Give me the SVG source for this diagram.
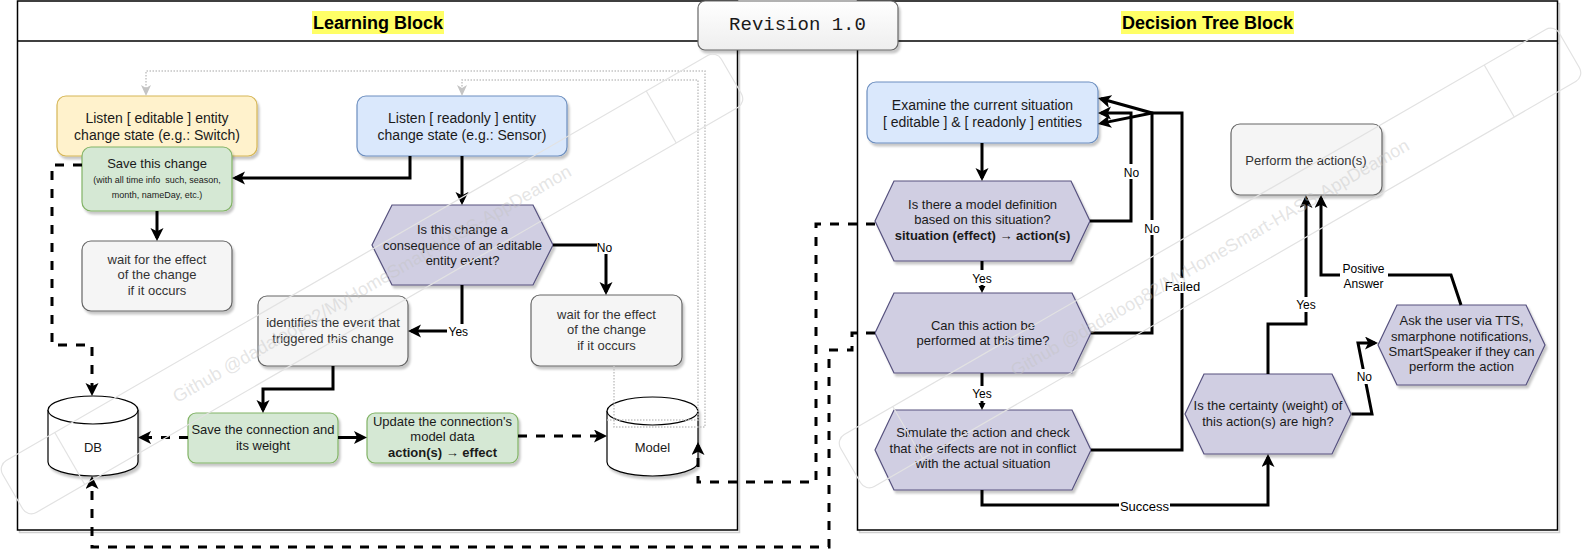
<svg xmlns="http://www.w3.org/2000/svg" width="1587" height="559" viewBox="0 0 1587 559">
<defs>
<style>
text { font-family: "Liberation Sans", Arial, Helvetica, sans-serif; text-anchor: middle; }
.t14 { font-size: 14px; fill: #1a1a1a; }
.t13 { font-size: 13px; fill: #1a1a1a; }
.g13 { font-size: 13px; fill: #333333; }
.t9 { font-size: 9px; fill: #1a1a1a; }
.b { font-weight: bold; }
.lbl { font-size: 12px; fill: #000; }
.lbl13 { font-size: 13px; fill: #000; }
.lane { fill: #ffffff; stroke: #000; stroke-width: 1.5; }
.laneSh { fill: none; stroke: #cfcfcf; stroke-width: 1.5; }
.yellow { fill: #fff2cc; stroke: #d6b656; stroke-width: 1.2; }
.blue { fill: #dae8fc; stroke: #6c8ebf; stroke-width: 1.2; }
.green { fill: #d5e8d4; stroke: #82b366; stroke-width: 1.2; }
.grey { fill: #f5f5f5; stroke: #666666; stroke-width: 1.2; }
.purple { fill: #d0cee2; stroke: #56517e; stroke-width: 1.2; }
.cyl { fill: #ffffff; stroke: #000; stroke-width: 1.2; }
.e { fill: none; stroke: #000; stroke-width: 3; marker-end: url(#ar); }
.es { fill: none; stroke: #000; stroke-width: 3; marker-end: url(#sm); }
.d { fill: none; stroke: #000; stroke-width: 3; stroke-dasharray: 9 9; marker-end: url(#ar); }
.dot { fill: none; stroke: #c4c4c4; stroke-width: 1.5; stroke-dasharray: 1.5 1.5; marker-end: url(#ag); }
.lbg { fill: #ffffff; }
.hl { fill: #ffff66; }
.wm rect, .wm line { fill: none; stroke: #e2e2e2; stroke-width: 1.2; }
.wm text { font-size: 18px; fill: #c4c4c4; fill-opacity: 0.45; }
</style>
<filter id="sh" x="-10%" y="-10%" width="130%" height="140%">
<feDropShadow dx="2" dy="3" stdDeviation="1.2" flood-color="#000" flood-opacity="0.22"/>
</filter>
<linearGradient id="rev" x1="0" y1="0" x2="0" y2="1">
<stop offset="0" stop-color="#ffffff"/>
<stop offset="1" stop-color="#eeeeee"/>
</linearGradient>
<marker id="ar" markerUnits="userSpaceOnUse" markerWidth="14" markerHeight="14" refX="10" refY="6.5" orient="auto">
<path d="M0,0 L13,6.5 L0,13 L3.2,6.5 z" fill="#000"/>
</marker>
<marker id="sm" markerUnits="userSpaceOnUse" markerWidth="8" markerHeight="8" refX="4" refY="3.5" orient="auto">
<path d="M0,0 L7,3.5 L0,7 z" fill="#000"/>
</marker>
<marker id="ag" markerUnits="userSpaceOnUse" markerWidth="12" markerHeight="11" refX="9" refY="5" orient="auto">
<path d="M0,0 L11,5 L0,10 L3,5 z" fill="#c4c4c4"/>
</marker>
</defs>

<rect x="0" y="0" width="1587" height="559" fill="#ffffff"/>

<g id="learning-block">
<rect class="laneSh" x="19.5" y="3.5" width="720" height="529"/>
<line class="laneSh" x1="19.5" y1="43.5" x2="739.5" y2="43.5"/>
<rect class="lane" x="17.5" y="1" width="720" height="529"/>
<line x1="17.5" y1="41" x2="737.5" y2="41" stroke="#000" stroke-width="1.5"/>
<rect class="hl" x="312" y="11" width="132" height="23"/>
<text x="378" y="28.5" style="font-size:18px;font-weight:bold;fill:#000">Learning Block</text>
</g>

<g id="decision-block">
<rect class="laneSh" x="859.5" y="3.5" width="700" height="529"/>
<line class="laneSh" x1="859.5" y1="43.5" x2="1559.5" y2="43.5"/>
<rect class="lane" x="857.5" y="1" width="700" height="529"/>
<line x1="857.5" y1="41" x2="1557.5" y2="41" stroke="#000" stroke-width="1.5"/>
<rect class="hl" x="1121" y="11" width="173" height="23"/>
<text x="1207.5" y="28.5" style="font-size:18px;font-weight:bold;fill:#000">Decision Tree Block</text>
</g>

<g id="revision">
<rect x="698" y="1" width="200" height="49" rx="7" fill="url(#rev)" stroke="#666" stroke-width="1.2" filter="url(#sh)"/>
<text x="797.5" y="30" style="font-family:'Liberation Mono','Courier New',monospace;font-size:19px;fill:#1a1a1a">Revision 1.0</text>
</g>

<g id="n-listen-editable">
<rect class="yellow" x="57" y="96" width="200" height="60" rx="9" filter="url(#sh)"/>
<text class="t14" x="157" y="123">Listen [ editable ] entity</text>
<text class="t14" x="157" y="140">change state (e.g.: Switch)</text>
</g>

<g id="n-listen-readonly">
<rect class="blue" x="357" y="96" width="210" height="60" rx="9" filter="url(#sh)"/>
<text class="t14" x="462" y="123">Listen [ readonly ] entity</text>
<text class="t14" x="462" y="140">change state (e.g.: Sensor)</text>
</g>

<g id="n-save-change">
<rect class="green" x="82" y="147" width="150" height="64" rx="9" filter="url(#sh)"/>
<text class="t13" x="157" y="167.5">Save this change</text>
<text class="t9" x="157" y="182.5">(with all time info&#160; such, season,</text>
<text class="t9" x="157" y="197.5">month, nameDay, etc.)</text>
</g>

<g id="n-wait-1">
<rect class="grey" x="82" y="241" width="150" height="70" rx="9" filter="url(#sh)"/>
<text class="g13" x="157" y="263.5">wait for the effect</text>
<text class="g13" x="157" y="279">of the change</text>
<text class="g13" x="157" y="294.5">if it occurs</text>
</g>

<g id="n-consequence">
<polygon class="purple" points="372,245 392,205 533,205 553,245 533,285 392,285" filter="url(#sh)"/>
<text class="t13" x="462.5" y="233.5">Is this change a</text>
<text class="t13" x="462.5" y="249.5">consequence of an editable</text>
<text class="t13" x="462.5" y="265">entity event?</text>
</g>

<g id="n-wait-2">
<rect class="grey" x="531" y="295" width="151" height="71" rx="9" filter="url(#sh)"/>
<text class="g13" x="606.5" y="318.5">wait for the effect</text>
<text class="g13" x="606.5" y="334">of the change</text>
<text class="g13" x="606.5" y="349.5">if it occurs</text>
</g>

<g id="n-identifies">
<rect class="grey" x="258" y="296" width="150" height="70" rx="9" filter="url(#sh)"/>
<text class="g13" x="333" y="326.5">identifies the event that</text>
<text class="g13" x="333" y="342.5">triggered this change</text>
</g>

<g id="n-save-connection">
<rect class="green" x="188" y="413" width="150" height="50" rx="8" filter="url(#sh)"/>
<text class="t13" x="263" y="434">Save the connection and</text>
<text class="t13" x="263" y="449.5">its weight</text>
</g>

<g id="n-update">
<rect class="green" x="367" y="413" width="151" height="50" rx="8" filter="url(#sh)"/>
<text class="t13" x="442.5" y="426">Update the connection's</text>
<text class="t13" x="442.5" y="441">model data</text>
<text class="t13 b" x="442.5" y="457">action(s) → effect</text>
</g>

<g id="n-db">
<path class="cyl" d="M48,410 A45,14 0 0 1 138,410 V462 A45,14 0 0 1 48,462 Z" filter="url(#sh)"/>
<path class="cyl" d="M48,410 A45,14 0 0 0 138,410" fill="none"/>
<text class="t13" x="93" y="452.3">DB</text>
</g>

<g id="n-model">
<path class="cyl" d="M607,411 A45.5,14 0 0 1 698,411 V462 A45.5,14 0 0 1 607,462 Z" filter="url(#sh)"/>
<path class="cyl" d="M607,411 A45.5,14 0 0 0 698,411" fill="none"/>
<text class="t13" x="652.5" y="452.3">Model</text>
</g>

<g id="n-examine">
<rect class="blue" x="867" y="82" width="231" height="61" rx="9" filter="url(#sh)"/>
<text class="t14" x="982.5" y="110">Examine the current situation</text>
<text class="t14" x="982.5" y="127">[ editable ] &amp; [ readonly ] entities</text>
</g>

<g id="n-model-definition">
<polygon class="purple" points="875,221 894,181 1071,181 1090,221 1071,261 894,261" filter="url(#sh)"/>
<text class="t13" x="982.5" y="208.5">Is there a model definition</text>
<text class="t13" x="982.5" y="224">based on this situation?</text>
<text class="t13 b" x="982.5" y="239.5">situation (effect) → action(s)</text>
</g>

<g id="n-can-perform">
<polygon class="purple" points="875,333 894,293 1072,293 1091,333 1072,373 894,373" filter="url(#sh)"/>
<text class="t13" x="983" y="329.5">Can this action be</text>
<text class="t13" x="983" y="345">performed at this time?</text>
</g>

<g id="n-simulate">
<polygon class="purple" points="875,450 894,410 1072,410 1091,450 1072,490 894,490" filter="url(#sh)"/>
<text class="t13" x="983" y="436.7">Simulate the action and check</text>
<text class="t13" x="983" y="452.7">that the effects are not in conflict</text>
<text class="t13" x="983" y="467.7">with the actual situation</text>
</g>

<g id="n-certainty">
<polygon class="purple" points="1185,414 1204,374 1332,374 1351,414 1332,454 1204,454" filter="url(#sh)"/>
<text class="t13" x="1268" y="410">Is the certainty (weight) of</text>
<text class="t13" x="1268" y="426">this action(s) are high?</text>
</g>

<g id="n-ask-user">
<polygon class="purple" points="1378,345 1397,305 1526,305 1545,345 1526,385 1397,385" filter="url(#sh)"/>
<text class="t13" x="1461.5" y="325">Ask the user via TTS,</text>
<text class="t13" x="1461.5" y="340.5">smarphone notifications,</text>
<text class="t13" x="1461.5" y="356">SmartSpeaker if they can</text>
<text class="t13" x="1461.5" y="371">perform the action</text>
</g>

<g id="n-perform">
<rect class="grey" x="1231" y="124" width="151" height="71" rx="9" filter="url(#sh)"/>
<text class="g13" x="1306" y="164.5">Perform the action(s)</text>
</g>

<g id="connectors">
<path class="e" d="M410,156 V178 H235"/>
<path class="e" d="M462,156 V202"/>
<path class="e" d="M157,211 V238"/>
<path class="e" d="M553,245 H606 V292"/>
<path class="e" d="M462,285 V331 H411"/>
<path class="e" d="M333,366 V389 H263 V410"/>
<path class="e" d="M338,437.5 H364"/>
<path class="d" d="M188,437.5 H141"/>
<path class="d" d="M518,436 H604"/>
<path class="d" d="M82,165 H52 V345 H92 V393"/>
<path class="d" d="M875,224 H816 V482 H698 V445"/>
<path class="d" d="M875,333 H852 V350 H829 V547 H92 V479"/>
<path class="dot" d="M614,366 V427 H705 V71 H146 V94"/>
<path class="dot" d="M607,420 H698 V80 H462 V94"/>
<path class="e" d="M982,143 V178"/>
<path class="e" d="M1090,221 H1131 V113 H1101"/>
<path class="e" d="M1091,333 H1152 V113 L1100.9,98.8"/>
<path class="e" d="M1091,450 H1182 V113 H1152 L1100.9,123.4"/>
<path class="es" d="M982,261 V290"/>
<path class="es" d="M982,373 V407"/>
<path class="e" d="M982,490 V505 H1268 V457"/>
<path class="e" d="M1268,374 V324 H1306 V198"/>
<path class="e" d="M1351.5,414 H1372 L1358,343 H1375"/>
<path class="e" d="M1461,305 L1451,275 H1321 V198"/>
</g>

<g id="edge-labels">
<rect class="lbg" x="597" y="239" width="16" height="15"/>
<text class="lbl" x="604.5" y="251.5">No</text>
<rect class="lbg" x="447" y="324" width="23" height="15"/>
<text class="lbl" x="458.3" y="336">Yes</text>
<rect class="lbg" x="1123" y="164" width="17" height="15"/>
<text class="lbl" x="1131.5" y="176.5">No</text>
<rect class="lbg" x="1144" y="220" width="17" height="15"/>
<text class="lbl" x="1152" y="232.5">No</text>
<rect class="lbg" x="1164" y="278" width="37" height="15"/>
<text class="lbl13" x="1182.5" y="290.5">Failed</text>
<rect class="lbg" x="971" y="270" width="22" height="15"/>
<text class="lbl" x="982" y="282.5">Yes</text>
<rect class="lbg" x="971" y="386" width="22" height="15"/>
<text class="lbl" x="982" y="398">Yes</text>
<rect class="lbg" x="1119" y="498" width="51" height="15"/>
<text class="lbl13" x="1144.5" y="510.5">Success</text>
<rect class="lbg" x="1295" y="297" width="22" height="15"/>
<text class="lbl" x="1306" y="309">Yes</text>
<rect class="lbg" x="1356" y="369" width="17" height="15"/>
<text class="lbl" x="1364.3" y="381">No</text>
<rect class="lbg" x="1340" y="261" width="48" height="30"/>
<text class="lbl" x="1363.5" y="272.5">Positive</text>
<text class="lbl" x="1363.5" y="288.3">Answer</text>
</g>

<g id="watermark-1" class="wm" transform="translate(372,284) rotate(-30)">
<rect x="-415" y="-30" width="830" height="60" rx="10"/>
<line x1="-349" y1="-30" x2="-349" y2="30"/>
<line x1="334" y1="-30" x2="334" y2="30"/>
<text x="0" y="6">Github @dadaloop82/MyHomeSmart-HASS-AppDeamon</text>
</g>
<g id="watermark-2" class="wm" transform="translate(1210,258) rotate(-30)">
<rect x="-415" y="-30" width="830" height="60" rx="10"/>
<line x1="-349" y1="-30" x2="-349" y2="30"/>
<line x1="334" y1="-30" x2="334" y2="30"/>
<text x="0" y="6">Github @dadaloop82/MyHomeSmart-HASS-AppDeamon</text>
</g>
</svg>
